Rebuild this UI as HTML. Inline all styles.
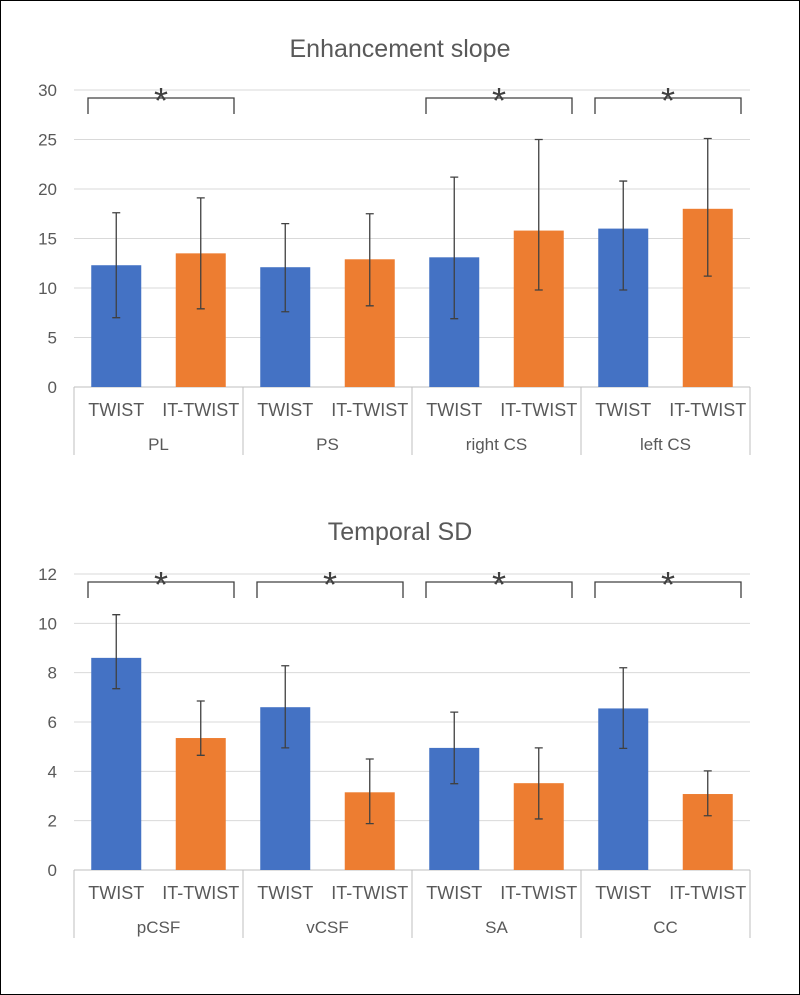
<!DOCTYPE html>
<html><head><meta charset="utf-8"><style>
body{margin:0;background:#fff}
svg{display:block;font-family:"Liberation Sans",sans-serif}
</style></head><body>
<svg width="800" height="995" viewBox="0 0 800 995" id="fig">
<rect x="0.5" y="0.5" width="799" height="994" fill="#fff" stroke="#000"/>
</svg>
<script>
const groupsTop=["PL","PS","right CS","left CS"];
const seriesNames=["TWIST","IT-TWIST"];
const topTwist=[12.3,12.1,13.1,16.0];
const topTwistLo=[7.0,7.6,6.9,9.8];
const topTwistHi=[17.6,16.5,21.2,20.8];
const topIt=[13.5,12.9,15.8,18.0];
const topItLo=[7.9,8.2,9.8,11.2];
const topItHi=[19.1,17.5,25.0,25.1];
const topTicks=[0,5,10,15,20,25,30];
const topSig=[true,false,true,true];

const groupsBot=["pCSF","vCSF","SA","CC"];
const botTwist=[8.6,6.6,4.95,6.55];
const botTwistLo=[7.35,4.95,3.5,4.93];
const botTwistHi=[10.35,8.28,6.4,8.2];
const botIt=[5.35,3.15,3.52,3.08];
const botItLo=[4.65,1.88,2.07,2.2];
const botItHi=[6.85,4.5,4.95,4.02];
const botTicks=[0,2,4,6,8,10,12];
const botSig=[true,true,true,true];

const svg=document.getElementById('fig');
const NS='http://www.w3.org/2000/svg';
function mk(t,a,p){const e=document.createElementNS(NS,t);for(const k in a)e.setAttribute(k,a[k]);(p||svg).appendChild(e);return e;}

function chart(o){
  const g=mk('g',{});
  
  
  const x0=74,x1=750,max=o.ticks[o.ticks.length-1];
  const y=v=>o.y0-(v/max)*(o.y0-o.yTop);
  const gw=(x1-x0)/o.groups.length;
  const t=mk('text',{x:400,y:o.titleY,'text-anchor':'middle','font-size':25,fill:'#595959'},g);
  t.textContent=o.title;
  
  
  o.ticks.forEach(v=>{
    const l=mk('line',{x1:x0,x2:x1,y1:y(v),y2:y(v),stroke:v===0?'#bfbfbf':'#d9d9d9','stroke-width':1},g);
    
    
    const tx=mk('text',{x:57,y:y(v)+6,'text-anchor':'end','font-size':17,fill:'#595959'},g);
    tx.textContent=v;
    
    
  });
  for(let i=0;i<=o.groups.length;i++){
    const sx=x0+i*gw;
    const l=mk('line',{x1:sx,x2:sx,y1:o.y0,y2:o.y0+68,stroke:'#bfbfbf'},g);
    
    
  }
  const vals=[o.a,o.b],lo=[o.aLo,o.bLo],hi=[o.aHi,o.bHi],cols=['#4472c4','#ed7d31'];
  o.groups.forEach((name,i)=>{
    const gx=x0+i*gw;
    for(let s=0;s<2;s++){
      const cx=gx+gw/4+s*gw/2, bw=50;
      const r=mk('rect',{x:cx-bw/2,y:y(vals[s][i]),width:bw,height:o.y0-y(vals[s][i]),fill:cols[s]},g);
      
      
      const e=mk('path',{d:`M${cx},${y(lo[s][i])}V${y(hi[s][i])}M${cx-4},${y(lo[s][i])}H${cx+4}M${cx-4},${y(hi[s][i])}H${cx+4}`,stroke:'#404040','stroke-width':1.3,fill:'none'},g);
      
      
      const tl=mk('text',{x:cx,y:o.y0+29,'text-anchor':'middle','font-size':18,fill:'#595959'},g);
      tl.textContent=seriesNames[s];
      
      
    }
    const gl=mk('text',{x:gx+gw/2,y:o.y0+63,'text-anchor':'middle','font-size':17,fill:'#595959'},g);
    gl.textContent=name;
    
    
    if(o.sig[i]){
      const bx1=gx+14,bx2=gx+gw-9,by=o.yTop+8;
      const b=mk('path',{d:`M${bx1},${by+16}V${by}H${bx2}V${by+16}`,stroke:'#404040','stroke-width':1.3,fill:'none'},g);
      
      
      const st=mk('text',{x:(bx1+bx2)/2,y:by+15,'text-anchor':'middle','font-size':36,fill:'#404040'},g);
      st.textContent='*';
      
      
    }
  });
}
chart({name:'enhancement-slope-chart',title:'Enhancement slope',titleY:57,y0:387,yTop:90,ticks:topTicks,groups:groupsTop,a:topTwist,aLo:topTwistLo,aHi:topTwistHi,b:topIt,bLo:topItLo,bHi:topItHi,sig:topSig});
chart({name:'temporal-sd-chart',title:'Temporal SD',titleY:540,y0:870,yTop:574,ticks:botTicks,groups:groupsBot,a:botTwist,aLo:botTwistLo,aHi:botTwistHi,b:botIt,bLo:botItLo,bHi:botItHi,sig:botSig});
</script>
</body></html>
